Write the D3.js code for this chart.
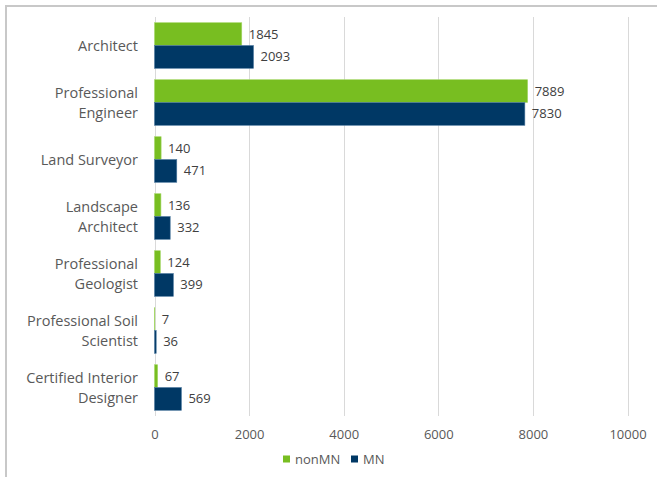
<!DOCTYPE html>
<html><head><meta charset="utf-8">
<script src="https://cdn.jsdelivr.net/npm/d3@7"></script>
<style>
html,body{margin:0;padding:0;background:#fff;}
svg{display:block;font-family:"Open Sans",sans-serif;}
</style></head>
<body>
<script>
const categories = ["Architect","Professional Engineer","Land Surveyor","Landscape Architect","Professional Geologist","Professional Soil Scientist","Certified Interior Designer"];
const categoryLines = [["Architect"],["Professional","Engineer"],["Land Surveyor"],["Landscape","Architect"],["Professional","Geologist"],["Professional Soil","Scientist"],["Certified Interior","Designer"]];
const seriesNames = ["nonMN","MN"];
const nonMN = [1845,7889,140,136,124,7,67];
const MN = [2093,7830,471,332,399,36,569];
const xTicks = [0,2000,4000,6000,8000,10000];
const colors = ["#78BE21","#003865"];

const W=657,H=477;
const svg=d3.select("body").append("svg").attr("width",W).attr("height",H);

// outer border
svg.append("rect").attr("x",6).attr("y",6).attr("width",W+10).attr("height",H+10)
  .attr("fill","none").attr("stroke","#c8c8c8").attr("stroke-width",2);

const x=d3.scaleLinear().domain([0,10000]).range([154.5,627.5]);
const y=d3.scaleBand().domain(categories).range([17,416]).paddingInner(0.2).paddingOuter(0.1);
const y2=d3.scaleBand().domain(seriesNames).range([0,y.bandwidth()]);

// gridlines
svg.append("g").selectAll("line").data(xTicks).join("line")
  .attr("x1",d=>Math.round(x(d))+0.5).attr("x2",d=>Math.round(x(d))+0.5)
  .attr("y1",17).attr("y2",416).attr("stroke","#d9d9d9").attr("stroke-width",1);

// x axis labels
const xa=d3.axisBottom(x).tickValues(xTicks).tickSize(0).tickPadding(0).tickFormat(d3.format("d"));
const gx=svg.append("g").attr("transform","translate(0,430)").call(xa);
gx.select(".domain").remove();
gx.selectAll("text").attr("fill","#595959").attr("font-size","13px").attr("font-family","Open Sans, sans-serif");

// category labels
const gy=svg.append("g");
categories.forEach((c,i)=>{
  const lines=categoryLines[i];
  const cy=y(c)+y.bandwidth()/2;
  const lh=20;
  const t=gy.append("text").attr("x",138).attr("text-anchor","end").attr("fill","#595959").attr("font-size","14.5px");
  lines.forEach((l,j)=>{
    t.append("tspan").attr("x",138).attr("y",cy+(j-(lines.length-1)/2)*lh).attr("dy","0.35em").text(l);
  });
});

// bars
const data=[nonMN,MN];
data.forEach((vals,s)=>{
  const g=svg.append("g");
  g.selectAll("rect").data(vals).join("rect")
    .attr("x",x(0)).attr("y",(d,i)=>y(categories[i])+y2(seriesNames[s]))
    .attr("width",d=>x(d)-x(0)).attr("height",y2.bandwidth())
    .attr("fill",colors[s]).attr("stroke",s===0?"#a6d86a":"#4f7aa0").attr("stroke-width",0.6);
  g.selectAll("text").data(vals).join("text")
    .attr("x",d=>x(d)+7).attr("y",(d,i)=>y(categories[i])+y2(seriesNames[s])+y2.bandwidth()/2)
    .attr("dy","0.35em").attr("fill","#404040").attr("font-size","13px").text(d=>d);
});

// legend
const lg=svg.append("g").attr("transform","translate(283,459)");
const items=[{n:"nonMN",c:colors[0],x:0},{n:"MN",c:colors[1],x:68}];
items.forEach(it=>{
  lg.append("rect").attr("x",it.x).attr("y",-3.5).attr("width",7).attr("height",7).attr("fill",it.c);
  lg.append("text").attr("x",it.x+12).attr("y",0).attr("dy","0.35em").attr("fill","#595959").attr("font-size","13px").text(it.n);
});
</script>
</body></html>
